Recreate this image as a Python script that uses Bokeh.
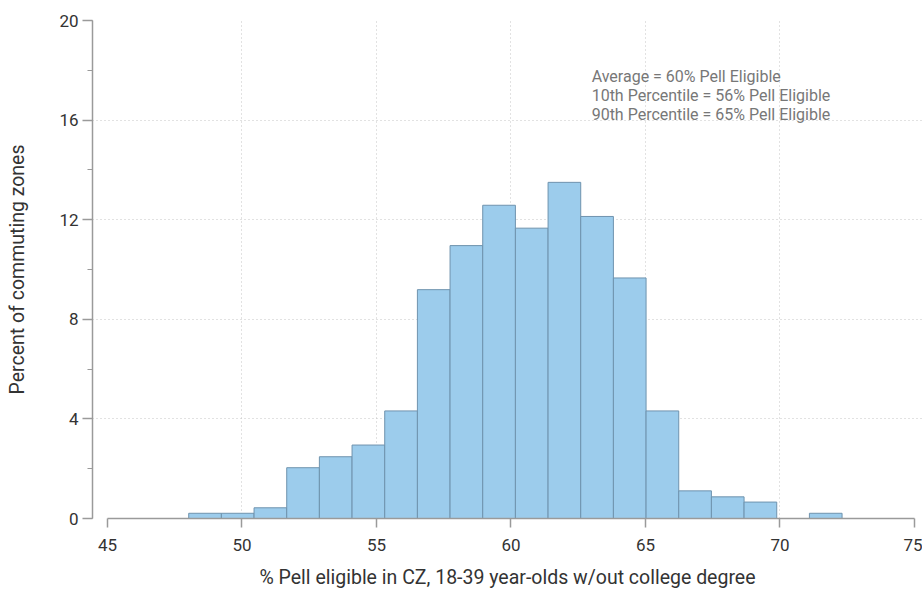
import numpy as np
from bokeh.plotting import figure
from bokeh.models import Range1d, SingleIntervalTicker, FixedTicker, Label, ColumnDataSource
from bokeh.embed import file_html
from bokeh.resources import INLINE

# ---- data ----
bin_start = 48.02
bin_width = 1.2145
percent_of_czs = [0.21, 0.21, 0.43, 2.04, 2.48, 2.95, 4.32, 9.19, 10.96, 12.58,
                  11.66, 13.50, 12.13, 9.66, 4.32, 1.11, 0.87, 0.66, 0.0, 0.21]
x_ticks = [45, 50, 55, 60, 65, 70, 75]
y_ticks = [0, 4, 8, 12, 16, 20]
annotation_lines = ["Average = 60% Pell Eligible",
                    "10th Percentile = 56% Pell Eligible",
                    "90th Percentile = 65% Pell Eligible"]
x_label = "% Pell eligible in CZ, 18-39 year-olds w/out college degree"
y_label = "Percent of commuting zones"

FONT = "Roboto"

n = len(percent_of_czs)
lefts = bin_start + bin_width * np.arange(n)
rights = lefts + bin_width
src = ColumnDataSource(dict(left=lefts, right=rights, top=percent_of_czs, bottom=[0] * n))

p = figure(width=922, height=598, output_backend="svg", toolbar_location=None,
           x_range=Range1d(44.443, 75.3), y_range=Range1d(0, 20),
           min_border_left=92, min_border_right=0, min_border_top=20, min_border_bottom=80)
p.outline_line_color = None
p.background_fill_color = "white"

p.quad(left="left", right="right", top="top", bottom="bottom", source=src,
       fill_color="#9CCCEC", line_color="#6F93AE", line_width=1)

# axes
xa = p.xaxis[0]
xa.ticker = FixedTicker(ticks=x_ticks)
xa.bounds = (45, 75)
ya = p.yaxis[0]
ya.ticker = SingleIntervalTicker(interval=4, num_minor_ticks=2)
ya.bounds = (0, 20)

for ax in (xa, ya):
    ax.axis_line_color = "#9a9a9a"
    ax.axis_line_width = 1.5
    ax.major_tick_line_color = "#9a9a9a"
    ax.major_tick_line_width = 1.5
    ax.major_tick_in = 0
    ax.major_tick_out = 10
    ax.minor_tick_in = 0
    ax.minor_tick_out = 5
    ax.minor_tick_line_color = "#9a9a9a"
    ax.minor_tick_line_width = 1.2
    ax.major_label_text_font = FONT
    ax.major_label_text_font_size = "17px"
    ax.major_label_text_color = "#333333"
    ax.axis_label_text_font = FONT
    ax.axis_label_text_font_size = "19.5px"
    ax.axis_label_text_font_style = "normal"
    ax.axis_label_text_color = "#333333"

xa.minor_tick_line_color = None
xa.major_tick_out = 9
xa.major_label_standoff = 11
xa.axis_label = x_label
xa.axis_label_standoff = 12
ya.axis_label = y_label
ya.major_label_standoff = 4
ya.axis_label_standoff = 27

# grids
p.xgrid.ticker = FixedTicker(ticks=x_ticks[1:-1])
p.ygrid.ticker = FixedTicker(ticks=y_ticks[:-1])
for g in (p.xgrid, p.ygrid):
    g.grid_line_color = "#c4c4c4"
    g.grid_line_dash = "1 3"
    g.grid_line_width = 1
p.xgrid.level = "underlay"
p.ygrid.level = "underlay"

# annotation
p.add_layout(Label(x=63.0, y=18.12, text="\n".join(annotation_lines),
                   text_font=FONT, text_font_size="16px", text_color="#777777",
                   text_baseline="top", text_align="left", text_line_height=0.99))

open("out.html", "w").write(file_html(p, INLINE))
